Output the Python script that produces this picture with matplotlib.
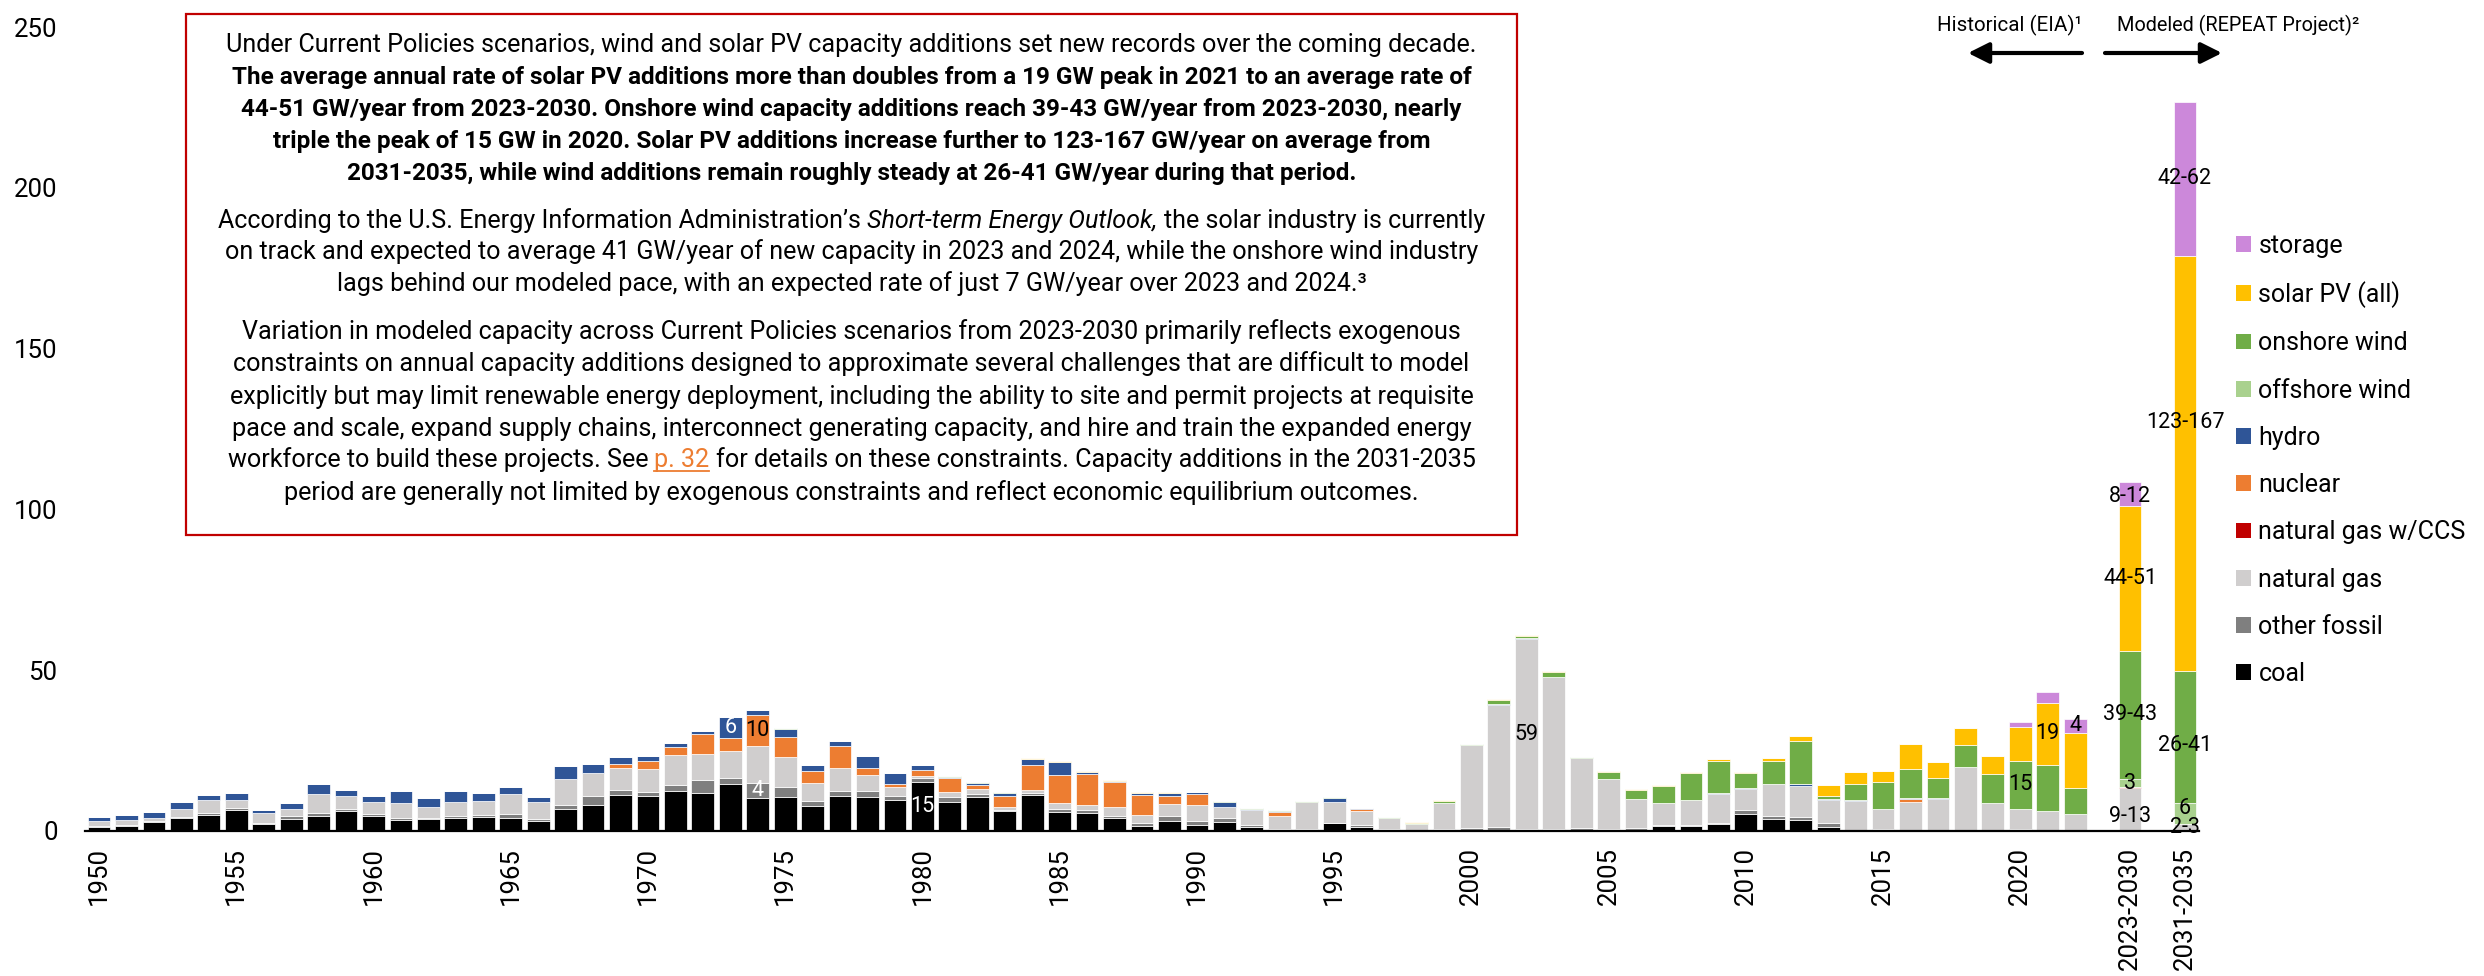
import numpy as np
import matplotlib
matplotlib.use("Agg")
import matplotlib.pyplot as plt
from matplotlib.patches import Patch, Rectangle, FancyArrowPatch
from matplotlib.lines import Line2D

plt.rcParams['font.family'] = ['Roboto', 'DejaVu Sans']

# ---- data (GW added per year) ----
years = [str(y) for y in range(1950, 2023)]
modeled = ['2023-2030', '2031-2035']
categories = years + modeled

coal = [1.2, 1.6, 2.6, 4.0, 4.9, 6.5, 2.2, 3.5, 4.6, 6.2,
        4.6, 3.4, 3.7, 4.0, 4.3, 3.9, 3.1, 6.7, 8.1, 11.2,
        10.7, 12.3, 11.7, 14.5, 10.2, 10.6, 7.7, 10.8, 10.6, 9.6,
        15.1, 9.0, 10.6, 6.1, 11.2, 5.8, 5.6, 3.9, 1.4, 3.0,
        1.8, 2.8, 1.1, 0.4, 0.0, 2.5, 1.2, 0.0, 0.0, 0.0,
        0.0, 0.0, 0.0, 0.0, 0.0, 0.0, 0.0, 1.4, 1.4, 2.1,
        5.3, 3.6, 3.4, 1.2, 0.0, 0.0, 0.0, 0.0, 0.0, 0.0,
        0.0, 0.0, 0.0,
        0.0, 0.0]
other_fossil = [0.4, 0.3, 0.4, 0.4, 0.5, 0.5, 0.1, 1.0, 0.8, 0.5,
                0.6, 0.6, 0.4, 0.7, 0.6, 1.3, 0.5, 1.2, 2.8, 1.4,
                1.2, 1.9, 4.0, 1.9, 4.5, 3.0, 1.5, 1.5, 1.9, 1.2,
                1.2, 1.5, 0.8, 0.3, 0.4, 0.9, 0.8, 0.6, 0.9, 1.6,
                1.1, 1.3, 0.6, 0.2, 0.5, 0.0, 0.7, 0.4, 0.2, 0.4,
                0.7, 1.0, 0.4, 0.4, 0.7, 0.4, 0.7, 0.5, 0.4, 0.3,
                1.1, 1.0, 0.8, 1.2, 0.0, 0.4, 0.0, 0.0, 0.0, 0.0,
                0.4, 0.0, 0.0,
                0.0, 0.0]
natural_gas = [1.4, 1.5, 1.0, 2.3, 4.1, 2.7, 3.1, 2.4, 6.1, 4.1,
               3.7, 4.7, 3.3, 4.3, 4.4, 6.2, 5.3, 8.3, 7.0, 7.0,
               7.4, 9.4, 8.1, 8.5, 11.8, 9.2, 5.6, 7.2, 4.8, 2.9,
               0.6, 1.5, 1.6, 0.9, 1.0, 1.9, 1.6, 2.8, 2.6, 3.7,
               5.1, 3.3, 4.8, 3.9, 8.3, 6.4, 4.1, 3.7, 2.0, 8.1,
               26.1, 38.0, 59.3, 47.3, 21.8, 15.6, 9.2, 6.6, 7.8, 9.1,
               6.6, 9.9, 9.8, 7.2, 9.3, 6.3, 8.9, 10.0, 19.7, 8.5,
               6.5, 6.0, 5.1,
               13.2, 2.1]
gas_ccs = [0.0] * 73 + [0.3, 0.0]
nuclear = [0.0] * 19 + [
    1.2, 2.3, 2.4, 6.2, 3.9, 9.5, 6.2, 3.7, 7.0, 2.1, 0.8,
    1.9, 4.5, 1.1, 3.4, 7.8, 8.6, 9.5, 7.8, 6.1, 2.5,
    3.5, 0.0, 0.0, 1.2, 0.0, 0.0, 0.8, 0.0, 0.0, 0.0,
    0.0, 0.0, 0.0, 0.0, 0.0, 0.0, 0.0, 0.0, 0.0, 0.0,
    0.0, 0.0, 0.0, 0.0, 0.0, 0.0, 0.9, 0.0, 0.0, 0.0,
    0.0, 0.0, 0.0,
    0.0, 0.0]
hydro = [1.3, 1.5, 1.9, 2.1, 1.6, 1.9, 1.1, 1.7, 2.9, 1.8,
         1.8, 3.5, 2.7, 3.5, 2.4, 2.3, 1.7, 4.0, 2.9, 2.0,
         1.5, 1.4, 0.9, 6.6, 1.4, 2.7, 2.0, 1.3, 3.7, 3.5,
         1.5, 0.3, 0.8, 1.0, 2.0, 4.2, 0.7, 0.4, 0.6, 0.8,
         0.4, 1.5, 0.4, 0.4, 0.0, 1.2, 0.3, 0.0, 0.0, 0.2,
         0.0, 0.3, 0.4, 0.0, 0.0, 0.0, 0.0, 0.0, 0.0, 0.2,
         0.3, 0.0, 0.4, 0.4, 0.2, 0.2, 0.4, 0.2, 0.0, 0.2,
         0.0, 0.0, 0.0,
         0.0, 0.0]
offshore_wind = [0.0] * 73 + [2.6, 6.5]
onshore_wind = [0.0] * 25 + [
    0.15, 0.0, 0.0, 0.0, 0.0,
    0.0, 0.3, 0.2, 0.3, 0.0, 0.0, 0.0, 0.0, 0.0, 0.0,
    0.2, 0.4, 0.3, 0.2, 0.3, 0.3, 0.1, 0.3, 0.2, 0.4,
    0.3, 1.4, 0.4, 1.6, 0.4, 2.3, 2.8, 5.4, 8.5, 10.1,
    4.5, 7.2, 13.4, 0.9, 5.0, 8.2, 8.9, 6.1, 7.0, 9.0,
    14.8, 14.5, 8.3,
    39.8, 41.2]
solar = [0.0] * 34 + [
    0.3, 0.4, 0.3, 0.2, 0.3, 0.3,
    0.0, 0.0, 0.0, 0.0, 0.0, 0.0, 0.0, 0.0, 0.2, 0.3,
    0.0, 0.4, 0.4, 0.4, 0.0, 0.2, 0.3, 0.4, 0.3, 0.4,
    0.4, 0.8, 1.7, 3.4, 3.7, 3.6, 8.0, 5.2, 5.2, 5.6,
    10.5, 19.3, 17.0,
    45.0, 129.1]
storage = [0.0] * 70 + [1.6, 3.4, 4.4, 7.7, 47.8]

series = [
    ('coal', coal, '#000000'),
    ('other fossil', other_fossil, '#7F7F7F'),
    ('natural gas', natural_gas, '#D0CECE'),
    ('natural gas w/CCS', gas_ccs, '#C00000'),
    ('nuclear', nuclear, '#ED7D31'),
    ('hydro', hydro, '#2F5597'),
    ('offshore wind', offshore_wind, '#A9D18E'),
    ('onshore wind', onshore_wind, '#70AD47'),
    ('solar PV (all)', solar, '#FFC000'),
    ('storage', storage, '#CC88DA'),
]

# value labels: (category, series, text, colour, vertical nudge in GW)
bar_labels = [
    ('1973', 'hydro', '6', 'white', 0),
    ('1974', 'nuclear', '10', 'black', 0),
    ('1974', 'other fossil', '4', 'white', 0),
    ('1980', 'coal', '15', 'white', 0),
    ('2002', 'natural gas', '59', 'black', 0),
    ('2020', 'onshore wind', '15', 'black', 0),
    ('2021', 'solar PV (all)', '19', 'black', 0),
    ('2022', 'storage', '4', 'black', 0),
    ('2023-2030', 'natural gas', '9-13', 'black', -2.2),
    ('2023-2030', 'offshore wind', '3', 'black', 0),
    ('2023-2030', 'onshore wind', '39-43', 'black', 0),
    ('2023-2030', 'solar PV (all)', '44-51', 'black', 0),
    ('2023-2030', 'storage', '8-12', 'black', -0.8),
    ('2031-2035', 'natural gas', '2-3', 'black', 0),
    ('2031-2035', 'offshore wind', '6', 'black', 1.5),
    ('2031-2035', 'onshore wind', '26-41', 'black', -2.8),
    ('2031-2035', 'solar PV (all)', '123-167', 'black', 12.8),
    ('2031-2035', 'storage', '42-62', 'black', 0),
]

# ---- layout ----
W, H = 2484, 976
def fx(px):
    return px / W
def fy(py):
    return 1 - py / H

fig = plt.figure(figsize=(W / 100, H / 100), dpi=100)
ax = fig.add_axes([fx(85.3), fy(830.7), fx(2198.7 - 85.3), (830.7 - 27.2) / H])

# one empty slot between history and each modeled bar
x = list(np.arange(len(years))) + [len(years) + 1, len(years) + 3]
x = np.array(x, dtype=float)

bottom = np.zeros(len(categories))
seg = {}
for name, vals, col in series:
    vals = np.array(vals, dtype=float)
    ax.bar(x, vals, width=0.83, bottom=bottom, color=col,
           edgecolor='white', linewidth=0.5)
    seg[name] = (bottom.copy(), vals)
    bottom += vals

for cat, name, txt, col, dy in bar_labels:
    i = categories.index(cat)
    b, v = seg[name]
    ax.text(x[i], b[i] + v[i] / 2 + dy, txt, ha='center', va='center',
            fontsize=15.5, color=col)

ax.set_xlim(-0.5, x[-1] + 0.5)
ax.set_ylim(0, 250)
ax.set_yticks(range(0, 251, 50))
tick_idx = [i for i, c in enumerate(categories) if c in modeled or int(c) % 5 == 0]
ax.set_xticks(x[tick_idx])
ax.set_xticklabels([categories[i] for i in tick_idx], rotation=90)
ax.tick_params(axis='y', length=0, pad=20, labelsize=18.5)
ax.tick_params(axis='x', length=0, pad=12, labelsize=18.5)
for s in ['left', 'top', 'right']:
    ax.spines[s].set_visible(False)
ax.spines['bottom'].set_linewidth(1.6)

# ---- legend ----
handles = [Patch(facecolor=col, edgecolor='none') for name, vals, col in series[::-1]]
labels = [name for name, vals, col in series[::-1]]
fig.legend(handles, labels, loc='upper left', bbox_to_anchor=(fx(2236), fy(234)),
           frameon=False, fontsize=18, handlelength=0.6, handleheight=0.6,
           handletextpad=0.3, labelspacing=0.93, borderpad=0, borderaxespad=0)

# ---- historical / modeled arrows ----
fig.text(fx(2010), fy(25), 'Historical (EIA)¹', ha='center', va='center', fontsize=14.8)
fig.text(fx(2238), fy(25), 'Modeled (REPEAT Project)²', ha='center', va='center', fontsize=14.3)
arrow = dict(arrowstyle='-|>,head_length=0.9,head_width=0.45', color='black', lw=3,
             shrinkA=0, shrinkB=0, mutation_scale=14)
fig.add_artist(FancyArrowPatch((fx(2082), fy(53)), (fx(1968), fy(53)),
                               transform=fig.transFigure, **arrow))
fig.add_artist(FancyArrowPatch((fx(2105), fy(53)), (fx(2222), fy(53)),
                               transform=fig.transFigure, **arrow))

# ---- text box ----
fig.add_artist(Rectangle((fx(186), fy(535)), fx(1517 - 186), (535 - 14) / H,
                         transform=fig.transFigure, fill=False, edgecolor='#C00000', lw=1.6))

renderer = fig.canvas.get_renderer()
box_cx = (186 + 1517) / 2
fs_reg = 18.1
fs_bold = 17.5

def width_of(s, size, **kw):
    t = fig.text(0, 0, s, fontsize=size, **kw)
    w = t.get_window_extent(renderer).width
    t.remove()
    return w

def draw_line(runs, y_center):
    base = y_center + 0.36 * fs_reg * 100 / 72
    items = []
    total = 0
    for s, kw in runs:
        kw = dict(kw)
        under = kw.pop('underline', False)
        size = fs_bold if kw.get('fontweight') == 'bold' else fs_reg
        core = s.strip(' ')
        lead = len(s) - len(s.lstrip(' '))
        trail = len(s) - len(s.rstrip(' '))
        sp = width_of('x x', size, **kw) - width_of('xx', size, **kw)
        w = width_of(core, size, **kw)
        items.append((core, kw, size, under, lead * sp, w, trail * sp))
        total += lead * sp + w + trail * sp
    xpos = box_cx - total / 2
    for core, kw, size, under, lw_, w, tw in items:
        xpos += lw_
        fig.text(fx(xpos), fy(base), core, fontsize=size, va='baseline', ha='left', **kw)
        if under:
            fig.add_artist(Line2D([fx(xpos), fx(xpos + w)], [fy(base + 4), fy(base + 4)],
                                  transform=fig.transFigure, color=kw.get('color', 'black'), lw=1.3))
        xpos += w + tw

B = {'fontweight': 'bold'}
R = {}
I = {'fontstyle': 'italic'}
text_lines = [
    ([('Under Current Policies scenarios, wind and solar PV capacity additions set new records over the coming decade.', R)], 43),
    ([('The average annual rate of solar PV additions more than doubles from a 19 GW peak in 2021 to an average rate of', B)], 75),
    ([('44-51 GW/year from 2023-2030. Onshore wind capacity additions reach 39-43 GW/year from 2023-2030, nearly', B)], 107),
    ([('triple the peak of 15 GW in 2020. Solar PV additions increase further to 123-167 GW/year on average from', B)], 139),
    ([('2031-2035, while wind additions remain roughly steady at 26-41 GW/year during that period.', B)], 171),
    ([('According to the U.S. Energy Information Administration’s ', R), ('Short-term Energy Outlook,', I),
      (' the solar industry is currently', R)], 219),
    ([('on track and expected to average 41 GW/year of new capacity in 2023 and 2024, while the onshore wind industry', R)], 250),
    ([('lags behind our modeled pace, with an expected rate of just 7 GW/year over 2023 and 2024.³', R)], 282),
    ([('Variation in modeled capacity across Current Policies scenarios from 2023-2030 primarily reflects exogenous', R)], 330),
    ([('constraints on annual capacity additions designed to approximate several challenges that are difficult to model', R)], 362),
    ([('explicitly but may limit renewable energy deployment, including the ability to site and permit projects at requisite', R)], 395),
    ([('pace and scale, expand supply chains, interconnect generating capacity, and hire and train the expanded energy', R)], 427),
    ([('workforce to build these projects. See ', R), ('p. 32', {'color': '#ED7D31', 'underline': True}),
      (' for details on these constraints. Capacity additions in the 2031-2035', R)], 458),
    ([('period are generally not limited by exogenous constraints and reflect economic equilibrium outcomes.', R)], 491),
]
for runs, yc in text_lines:
    draw_line(runs, yc)

fig.savefig('out.png', dpi=100)
